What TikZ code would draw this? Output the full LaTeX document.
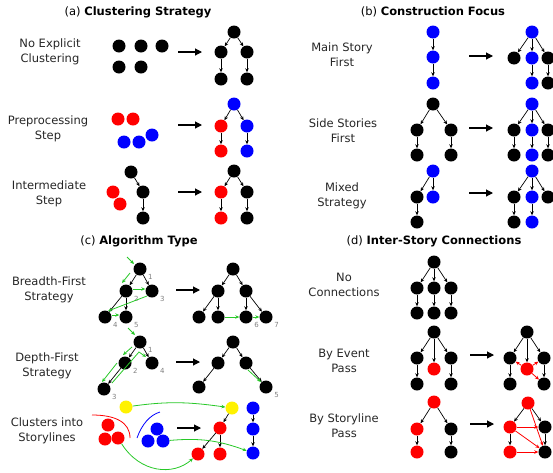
\documentclass[tikz,border=0pt]{standalone}
\usepackage{fontspec}
\setmainfont{DejaVu Sans}
\usetikzlibrary{arrows.meta, calc}
\definecolor{walkgreen}{RGB}{40,200,40}

\begin{document}
\begin{tikzpicture}[x=1pt, y=-1pt, font=\fontsize{11.5}{15}\selectfont,
	dot/.style={circle, inner sep=0pt, minimum size=13pt},
	kdot/.style={dot, fill=black}, rdot/.style={dot, fill=red},
	bdot/.style={dot, fill=blue}, ydot/.style={dot, fill=yellow},
	tie/.style={{Stealth[length=4pt,width=3.5pt]}-, line width=0.7pt},
	goes/.style={-{Triangle[length=7pt,width=7pt]}, line width=1.1pt},
	walk/.style={-{Stealth[length=4pt,width=3.5pt]}, draw=walkgreen, line width=0.8pt},
	link/.style={-{Stealth[length=4pt,width=3.5pt]}, red, line width=0.8pt},
	num/.style={label distance=-1.5pt, font=\fontsize{7}{8}\selectfont, text=gray},
	txt/.style={align=center, text=black!85}]
	\useasboundingbox (0,0) rectangle (553,472);

	% (a) clustering
	\node (aT) at (138,12) {(a) \textbf{Clustering Strategy}};
	\node[txt] (a1L) at (50,52) {No Explicit\\Clustering};
	\node[kdot] (a1X0) at (119,46) {}; \node[kdot] (a1X1) at (141,46) {}; \node[kdot] (a1X2) at (162,46) {};
	\node[kdot] (a1X3) at (119,67) {}; \node[kdot] (a1X4) at (141,67) {};
	\draw[goes] (178,52) -- ++(24,0);
	\node[kdot] (a1Y0) at (234,32) {};
	\node[kdot] (a1Y1) at (221,52) {} edge[tie] (a1Y0); \node[kdot] (a1Y2) at (247,52) {} edge[tie] (a1Y0);
	\node[kdot] (a1Y3) at (221,79) {} edge[tie] (a1Y1); \node[kdot] (a1Y4) at (247,79) {} edge[tie] (a1Y2);

	\node[txt] (a2L) at (48,129) {Preprocessing\\Step};
	\node[rdot] (a2X0) at (118,119) {}; \node[rdot] (a2X1) at (133,119) {};
	\node[bdot] (a2X2) at (124,142) {}; \node[bdot] (a2X3) at (139,142) {}; \node[bdot] (a2X4) at (152,135) {};
	\draw[goes] (178,125) -- ++(24,0);
	\node[bdot] (a2Y0) at (234,104) {};
	\node[rdot] (a2Y1) at (221,126) {} edge[tie] (a2Y0); \node[bdot] (a2Y2) at (247,126) {} edge[tie] (a2Y0);
	\node[rdot] (a2Y3) at (221,151) {} edge[tie] (a2Y1); \node[bdot] (a2Y4) at (247,151) {} edge[tie] (a2Y2);

	\node[txt] (a3L) at (49,194) {Intermediate\\Step};
	\node[kdot] (a3X0) at (131,172) {};
	\node[kdot] (a3X1) at (143,192) {} edge[tie] (a3X0); \node[kdot] (a3X2) at (143,218) {} edge[tie] (a3X1);
	\node[rdot] (a3X3) at (113,192) {}; \node[rdot] (a3X4) at (120,204) {};
	\draw[goes] (178,192) -- ++(24,0);
	\node[kdot] (a3Y0) at (234,171) {};
	\node[rdot] (a3Y1) at (221,192) {} edge[tie] (a3Y0); \node[kdot] (a3Y2) at (247,192) {} edge[tie] (a3Y0);
	\node[rdot] (a3Y3) at (221,218) {} edge[tie] (a3Y1); \node[kdot] (a3Y4) at (247,218) {} edge[tie] (a3Y2);

	% (b) construction focus
	\node (bT) at (433,12) {(b) \textbf{Construction Focus}};
	\node[txt] (b1L) at (342,55) {Main Story\\First};
	\node[bdot] (b1X0) at (433,32) {};
	\node[bdot] (b1X1) at (433,57) {} edge[tie] (b1X0); \node[bdot] (b1X2) at (433,83) {} edge[tie] (b1X1);
	\draw[goes] (469,56) -- ++(24,0);
	\node[bdot] (b1Y0) at (532,32) {};
	\node[kdot] (b1Y1) at (514,58) {} edge[tie] (b1Y0); \node[bdot] (b1Y2) at (532,58) {} edge[tie] (b1Y0);
	\node[kdot] (b1Y3) at (548,58) {} edge[tie] (b1Y0);
	\node[bdot] (b1Y4) at (532,83) {} edge[tie] (b1Y2); \node[kdot] (b1Y5) at (548,83) {} edge[tie] (b1Y3);

	\node[txt] (b2L) at (343,131) {Side Stories\\First};
	\node[kdot] (b2X0) at (433,104) {};
	\node[kdot] (b2X1) at (417,130) {} edge[tie] (b2X0); \node[kdot] (b2X2) at (451,130) {} edge[tie] (b2X0);
	\node[kdot] (b2X3) at (417,155) {} edge[tie] (b2X1); \node[kdot] (b2X4) at (451,155) {} edge[tie] (b2X2);
	\draw[goes] (469,128) -- ++(24,0);
	\node[bdot] (b2Y0) at (532,104) {};
	\node[kdot] (b2Y1) at (514,130) {} edge[tie] (b2Y0); \node[bdot] (b2Y2) at (532,130) {} edge[tie] (b2Y0);
	\node[kdot] (b2Y3) at (548,130) {} edge[tie] (b2Y0);
	\node[kdot] (b2Y4) at (514,155) {} edge[tie] (b2Y1); \node[bdot] (b2Y5) at (532,155) {} edge[tie] (b2Y2);
	\node[kdot] (b2Y6) at (548,155) {} edge[tie] (b2Y3);

	\node[txt] (b3L) at (342,196) {Mixed\\Strategy};
	\node[bdot] (b3X0) at (433,171) {};
	\node[kdot] (b3X1) at (417,197) {} edge[tie] (b3X0); \node[bdot] (b3X2) at (433,197) {} edge[tie] (b3X0);
	\node[kdot] (b3X3) at (417,222) {} edge[tie] (b3X1);
	\draw[goes] (469,193) -- ++(24,0);
	\node[bdot] (b3Y0) at (532,171) {};
	\node[kdot] (b3Y1) at (514,197) {} edge[tie] (b3Y0); \node[bdot] (b3Y2) at (532,197) {} edge[tie] (b3Y0);
	\node[kdot] (b3Y3) at (548,197) {} edge[tie] (b3Y0);
	\node[kdot] (b3Y4) at (514,222) {} edge[tie] (b3Y1); \node[bdot] (b3Y5) at (532,222) {} edge[tie] (b3Y2);

	% (c) algorithm type
	\node (cT) at (139,241) {(c) \textbf{Algorithm Type}};
	\node[txt] (c1L) at (49,290) {Breadth-First\\Strategy};
	\node[kdot, label={[num]-25:1}] (c1X1) at (140,269) {};
	\node[kdot, label={[num]-25:2}] (c1X2) at (126,291) {} edge[tie] (c1X1);
	\node[kdot, label={[num]-25:3}] (c1X3) at (152,291) {} edge[tie] (c1X1);
	\node[kdot, label={[num]-25:4}] (c1X4) at (105,317) {} edge[tie] (c1X2);
	\node[kdot, label={[num]-25:5}] (c1X5) at (126,317) {} edge[tie] (c1X2);
	\draw[walk] ($(c1X1)+(-13,-12)$) -- ($(c1X1)+(-6,-5)$);
	\draw[walk] ($(c1X1)+(-10,4)$) -- ($(c1X2)+(-4,-8)$);
	\draw[walk] ([yshift=2pt]c1X2.east) -- ([yshift=2pt]c1X3.west);
	\draw[walk] ($(c1X3)+(-5,5)$) -- ($(c1X4)+(3,-6)$);
	\draw[walk] ([yshift=2pt]c1X4.east) -- ([yshift=2pt]c1X5.west);
	\draw[goes] (176,290) -- ++(24,0);
	\node[kdot] (c1Y1) at (233,269) {};
	\node[kdot] (c1Y2) at (218,291) {} edge[tie] (c1Y1); \node[kdot] (c1Y3) at (246,291) {} edge[tie] (c1Y1);
	\node[kdot] (c1Y4) at (199,317) {} edge[tie] (c1Y2); \node[kdot] (c1Y5) at (218,317) {} edge[tie] (c1Y2);
	\node[kdot, label={[num]-25:6}] (c1Y6) at (246,317) {} edge[tie] (c1Y3);
	\node[kdot, label={[num]-25:7}] (c1Y7) at (266,317) {} edge[tie] (c1Y3);
	\draw[walk] (c1Y5) -- (c1Y6);
	\draw[walk] (c1Y6) -- (c1Y7);

	\node[txt] (c2L) at (47,366) {Depth-First\\Strategy};
	\node[kdot, label={[num]-25:1}] (c2X1) at (140,342) {};
	\node[kdot, label={[num]-25:2}] (c2X2) at (125,363) {} edge[tie] (c2X1);
	\node[kdot, label={[num]-25:4}] (c2X4) at (152,363) {} edge[tie] (c2X1);
	\node[kdot, label={[num]-25:3}] (c2X3) at (104,389) {} edge[tie] (c2X2);
	\draw[walk] ($(c2X1)+(-12,-14)$) -- ($(c2X1)+(-5,-7)$);
	\draw[walk] ($(c2X1)+(-8,5)$) -- ($(c2X2)+(-2,-8)$);
	\draw[walk] ($(c2X2)+(-8,0)$) -- ($(c2X3)+(-2,-7)$);
	\draw[walk] ($(c2X3)+(8,-6)$) -- ($(c2X1)+(-1,10)$) -- ($(c2X4)+(-6,-6)$);
	\draw[goes] (176,362) -- ++(24,0);
	\node[kdot] (c2Y1) at (233,342) {};
	\node[kdot] (c2Y2) at (218,363) {} edge[tie] (c2Y1); \node[kdot] (c2Y3) at (246,363) {} edge[tie] (c2Y1);
	\node[kdot] (c2Y4) at (199,387) {} edge[tie] (c2Y2);
	\node[kdot, label={[num]-25:5}] (c2Y5) at (266,387) {} edge[tie] (c2Y3);
	\draw[walk] ($(c2Y3)+(2,7)$) -- ($(c2Y5)+(-5,-5)$);

	\node[txt] (c3L) at (47,431) {Clusters into\\Storylines};
	\node[ydot] (c3X0) at (126,407) {};
	\node[rdot] (c3X1) at (108,425) {}; \node[rdot] (c3X2) at (105,439) {}; \node[rdot] (c3X3) at (118,438) {};
	\node[bdot] (c3X4) at (157,429) {}; \node[bdot] (c3X5) at (148,441) {}; \node[bdot] (c3X6) at (163,441) {};
	\draw[red, line width=0.8pt] (92,415) .. controls (115,415) and (130,422) .. (130,438);
	\draw[blue, line width=0.8pt] (137,438) .. controls (142,424) and (150,415) .. (160,412);
	\draw[goes] (177,428) -- ++(24,0);
	\node[ydot] (c3Y0) at (232,408) {};
	\node[rdot] (c3Y1) at (220,428) {} edge[tie] (c3Y0);
	\node[rdot] (c3Y2) at (198,454) {} edge[tie] (c3Y1); \node[rdot] (c3Y3) at (220,454) {} edge[tie] (c3Y1);
	\node[bdot] (c3Y4) at (253,408) {};
	\node[bdot] (c3Y5) at (253,429) {} edge[tie] (c3Y4); \node[bdot] (c3Y6) at (253,453) {} edge[tie] (c3Y5);
	\draw[walk] (c3X0) to[out=8, in=172] (c3Y0);
	\draw[walk] (c3X3) .. controls +(22,35) and +(-25,22) .. (c3Y2);
	\draw[walk] (c3X6) to[out=5, in=160] (c3Y6);

	% (d) inter-story connections
	\node (dT) at (434,241) {(d) \textbf{Inter-Story Connections}};
	\node[txt] (d1L) at (344,285) {No\\Connections};
	\node[kdot] (d1X0) at (434,262) {};
	\node[kdot] (d1X1) at (417,288) {} edge[tie] (d1X0); \node[kdot] (d1X2) at (434,288) {} edge[tie] (d1X0);
	\node[kdot] (d1X3) at (451,288) {} edge[tie] (d1X0);
	\node[kdot] (d1X4) at (417,313) {} edge[tie] (d1X1); \node[kdot] (d1X5) at (434,313) {} edge[tie] (d1X2);
	\node[kdot] (d1X6) at (451,313) {} edge[tie] (d1X3);

	\node[txt] (d2L) at (344,361) {By Event\\Pass};
	\node[kdot] (d2X0) at (434,332) {};
	\node[kdot] (d2X1) at (417,358) {} edge[tie] (d2X0); \node[rdot] (d2X2) at (434,369) {} edge[tie] (d2X0);
	\node[kdot] (d2X3) at (451,358) {} edge[tie] (d2X0);
	\node[kdot] (d2X4) at (417,384) {} edge[tie] (d2X1); \node[kdot] (d2X5) at (451,384) {} edge[tie] (d2X3);
	\draw[goes] (470,355) -- ++(24,0);
	\node[kdot] (d2Y0) at (527,332) {};
	\node[kdot] (d2Y1) at (510,358) {} edge[tie] (d2Y0); \node[rdot] (d2Y2) at (527,369) {} edge[tie] (d2Y0);
	\node[kdot] (d2Y3) at (544,358) {} edge[tie] (d2Y0);
	\node[kdot] (d2Y4) at (510,384) {} edge[tie] (d2Y1); \node[kdot] (d2Y5) at (544,384) {} edge[tie] (d2Y3);
	\draw[link] (d2Y2) -- (d2Y1);
	\draw[link] (d2Y2) -- (d2Y3);
	\draw[link] (d2Y2) -- (d2Y5);

	\node[txt] (d3L) at (344,426) {By Storyline\\Pass};
	\node[rdot] (d3X0) at (434,402) {};
	\node[rdot] (d3X1) at (417,429) {} edge[tie] (d3X0); \node[kdot] (d3X2) at (451,429) {} edge[tie] (d3X0);
	\node[rdot] (d3X3) at (417,452) {} edge[tie] (d3X1); \node[kdot] (d3X4) at (451,452) {} edge[tie] (d3X2);
	\draw[goes] (470,424) -- ++(24,0);
	\node[rdot] (d3Y0) at (528,403) {};
	\node[rdot] (d3Y1) at (510,427) {} edge[tie] (d3Y0); \node[kdot] (d3Y2) at (545,427) {} edge[tie] (d3Y0);
	\node[rdot] (d3Y3) at (510,452) {} edge[tie] (d3Y1); \node[kdot] (d3Y4) at (545,452) {} edge[tie] (d3Y2);
	\draw[link] (d3Y0) -- (d3Y4);
	\draw[link] (d3Y1) -- (d3Y2);
	\draw[link] (d3Y1) -- (d3Y4);
	\draw[link] (d3Y3) -- (d3Y4);
\end{tikzpicture}
\end{document}
